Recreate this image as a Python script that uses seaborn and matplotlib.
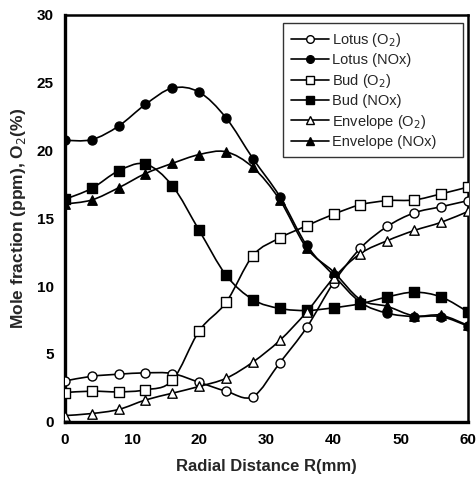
import matplotlib
matplotlib.use("Agg")
import matplotlib.pyplot as plt
from matplotlib.path import Path
from matplotlib.patches import PathPatch
from matplotlib.lines import Line2D
import numpy as np
import pandas as pd
import seaborn as sns

radial = [0, 4, 8, 12, 16, 20, 24, 28, 32, 36, 40, 44, 48, 52, 56, 60]
lotus_o2 = [3.0, 3.35, 3.5, 3.6, 3.55, 2.9, 2.25, 1.85, 4.35, 6.95, 10.25, 12.8, 14.4, 15.4, 15.85, 16.3]
lotus_nox = [20.75, 20.8, 21.8, 23.4, 24.6, 24.3, 22.4, 19.4, 16.6, 13.0, 10.8, 8.8, 8.0, 7.75, 7.75, 7.05]
bud_o2 = [2.15, 2.25, 2.2, 2.35, 3.05, 6.7, 8.8, 12.25, 13.55, 14.45, 15.3, 16.0, 16.3, 16.35, 16.8, 17.3]
bud_nox = [16.4, 17.2, 18.5, 19.0, 17.4, 14.1, 10.8, 9.0, 8.35, 8.2, 8.4, 8.7, 9.2, 9.55, 9.2, 8.1]
env_o2 = [0.45, 0.6, 0.9, 1.6, 2.1, 2.6, 3.2, 4.4, 6.0, 8.1, 10.6, 12.4, 13.35, 14.1, 14.7, 15.5]
env_nox = [16.05, 16.35, 17.25, 18.3, 19.05, 19.7, 19.9, 18.75, 16.35, 12.8, 11.05, 9.0, 8.5, 7.8, 7.85, 7.1]

series_names = ["Lotus (O$_2$)", "Lotus (NOx)", "Bud (O$_2$)", "Bud (NOx)",
                "Envelope (O$_2$)", "Envelope (NOx)"]
series_vals = [lotus_o2, lotus_nox, bud_o2, bud_nox, env_o2, env_nox]
markers = ["o", "o", "s", "s", "^", "^"]
fills = ["white", "black", "white", "black", "white", "black"]
x_ticks = [0, 10, 20, 30, 40, 50, 60]
y_ticks = [0, 5, 10, 15, 20, 25, 30]

sns.set_theme(style="white")
plt.rcParams['font.family'] = ['Liberation Sans', 'DejaVu Sans']

fig = plt.figure(figsize=(4.77, 4.8), dpi=100)
ax = fig.add_axes([0.136, 0.1215, 0.845, 0.8475])

def smooth_path(xs, ys):
    xs = np.asarray(xs, float)
    ys = np.asarray(ys, float)
    pts = np.column_stack([xs, ys])
    n = len(pts)
    verts = [pts[0]]
    codes = [Path.MOVETO]
    for i in range(n - 1):
        p0 = pts[i - 1] if i > 0 else pts[i]
        p1 = pts[i]
        p2 = pts[i + 1]
        p3 = pts[i + 2] if i + 2 < n else pts[i + 1]
        c1 = p1 + (p2 - p0) / 6.0
        c2 = p2 - (p3 - p1) / 6.0
        verts += [c1, c2, p2]
        codes += [Path.CURVE4] * 3
    return Path(verts, codes)

handles = []
for name, vals, m, fc in zip(series_names, series_vals, markers, fills):
    df = pd.DataFrame({"R": radial, "v": vals})
    patch = PathPatch(smooth_path(radial, vals), facecolor="none", edgecolor="black",
                      lw=1.2, transform=ax.transData, zorder=2)
    ax.add_patch(patch)
    sns.scatterplot(data=df, x="R", y="v", marker=m, s=42 if m != "^" else 46,
                    color=fc, edgecolor="black", linewidth=1.0, ax=ax, zorder=3,
                    legend=False)
    handles.append(Line2D([0], [0], color="black", lw=1.2, marker=m, markersize=5.5,
                          markerfacecolor=fc, markeredgecolor="black",
                          markeredgewidth=1.0, label=name))

ax.set_xlim(0, 60)
ax.set_ylim(0, 30)
ax.set_xticks(x_ticks)
ax.set_yticks(y_ticks)
ax.tick_params(axis="both", direction="in", length=5, width=1.5, labelsize=11,
               colors="black", pad=8)
for t in ax.get_xticklabels() + ax.get_yticklabels():
    t.set_fontweight("bold")
for name, sp in ax.spines.items():
    sp.set_linewidth(2.4 if name in ("left", "bottom") else 1.8)
    sp.set_color("black")
ax.set_xlabel("Radial Distance R(mm)", fontsize=12, fontweight="bold", labelpad=9)
ax.set_ylabel("Mole fraction (ppm), O$_2$(%)", fontsize=12.5, fontweight="bold", labelpad=6)

leg = ax.legend(handles=handles, loc="upper left", bbox_to_anchor=(0.541, 0.0, 0.447, 0.980),
                mode="expand", fontsize=10.5, frameon=True, fancybox=False, edgecolor="black",
                handlelength=2.6, handletextpad=0.2, borderpad=0.55, labelspacing=0.3,
                borderaxespad=0.0)
leg.get_frame().set_linewidth(1.0)

fig.savefig("out.png", dpi=100)
